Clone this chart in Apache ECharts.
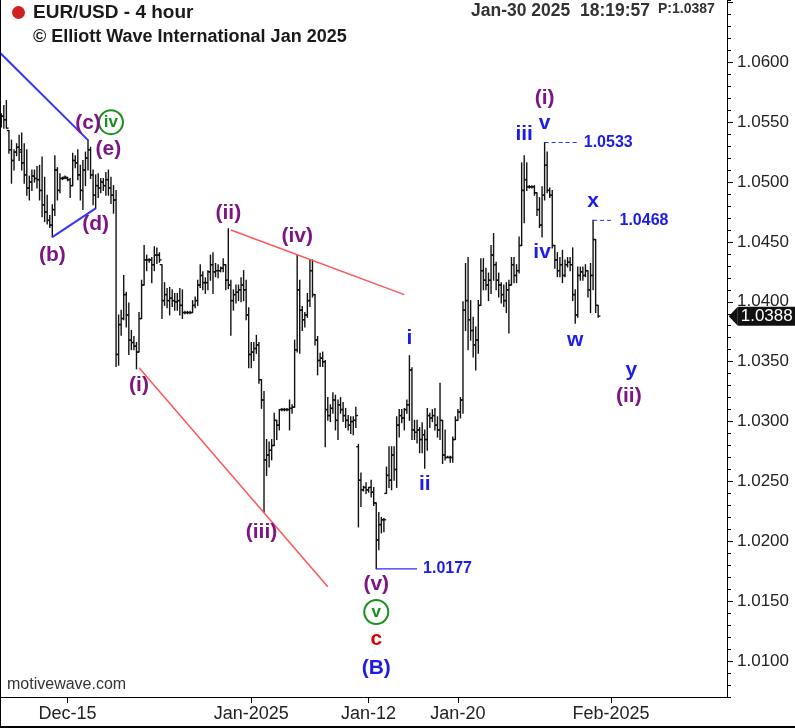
<!DOCTYPE html>
<html><head><meta charset="utf-8">
<script src="https://cdn.jsdelivr.net/npm/echarts@6/dist/echarts.min.js"></script>
<style>
html,body{margin:0;padding:0;background:#fff;}
#c{width:795px;height:728px;position:absolute;left:0;top:0;}
#frame{position:absolute;left:0;top:0;width:795px;height:728px;box-sizing:border-box;border-left:1px solid #000;border-bottom:2px solid #000;pointer-events:none;}
</style>
</head><body><div id="c"></div><div id="frame"></div>
<script>
const opens = [
1.0547,1.0555,1.0552,1.0543,1.0527,1.0518,1.0525,1.0529,1.0527,1.0516,
1.0506,1.0495,1.0500,1.0505,1.0503,1.0502,1.0493,1.0481,1.0475,1.0468,
1.0464,1.0477,1.0510,1.0493,1.0503,1.0504,1.0503,1.0502,1.0497,1.0518,
1.0516,1.0506,1.0493,1.0510,1.0520,1.0527,1.0506,1.0489,1.0497,1.0495,
1.0500,1.0497,1.0502,1.0495,1.0489,1.0485,1.0356,1.0381,1.0386,1.0406,
1.0389,1.0368,1.0366,1.0363,1.0358,1.0386,1.0414,1.0435,1.0435,1.0435,
1.0431,1.0439,1.0439,1.0431,1.0401,1.0406,1.0401,1.0403,1.0401,1.0400,
1.0401,1.0397,1.0391,1.0391,1.0391,1.0391,1.0397,1.0401,1.0414,1.0422,
1.0416,1.0416,1.0425,1.0431,1.0425,1.0426,1.0426,1.0428,1.0431,1.0418,
1.0414,1.0401,1.0406,1.0408,1.0410,1.0414,1.0410,1.0389,1.0356,1.0358,
1.0361,1.0364,1.0335,1.0318,1.0268,1.0272,1.0276,1.0280,1.0301,1.0297,
1.0310,1.0310,1.0310,1.0310,1.0311,1.0312,1.0360,1.0410,1.0393,1.0385,
1.0389,1.0401,1.0426,1.0406,1.0368,1.0351,1.0353,1.0350,1.0310,1.0305,
1.0311,1.0318,1.0301,1.0314,1.0310,1.0305,1.0301,1.0297,1.0300,1.0301,
1.0279,1.0251,1.0243,1.0245,1.0243,1.0245,1.0241,1.0232,1.0201,1.0214,
1.0218,1.0240,1.0255,1.0251,1.0272,1.0260,1.0297,1.0305,1.0303,1.0310,
1.0314,1.0343,1.0293,1.0291,1.0293,1.0285,1.0289,1.0285,1.0305,1.0303,
1.0305,1.0297,1.0293,1.0301,1.0272,1.0270,1.0270,1.0270,1.0285,1.0301,
1.0308,1.0318,1.0393,1.0401,1.0385,1.0376,1.0364,1.0368,1.0397,1.0426,
1.0418,1.0414,1.0418,1.0439,1.0431,1.0418,1.0414,1.0406,1.0401,1.0410,
1.0414,1.0431,1.0422,1.0426,1.0447,1.0493,1.0502,1.0496,1.0496,1.0496,
1.0491,1.0477,1.0464,1.0489,1.0514,1.0493,1.0489,1.0447,1.0435,1.0426,
1.0431,1.0422,1.0431,1.0433,1.0431,1.0406,1.0389,1.0422,1.0425,1.0422,
1.0426,1.0410,1.0422,1.0452,1.0397];
const highs = [
1.0557,1.0564,1.0568,1.0543,1.0535,1.0527,1.0532,1.0539,1.0541,1.0532,
1.0527,1.0505,1.0510,1.0510,1.0513,1.0514,1.0521,1.0504,1.0489,1.0472,
1.0481,1.0522,1.0512,1.0507,1.0504,1.0505,1.0504,1.0503,1.0524,1.0522,
1.0527,1.0514,1.0518,1.0525,1.0535,1.0529,1.0510,1.0506,1.0507,1.0503,
1.0503,1.0508,1.0510,1.0504,1.0497,1.0493,1.0389,1.0393,1.0422,1.0408,
1.0399,1.0376,1.0371,1.0366,1.0391,1.0418,1.0447,1.0439,1.0436,1.0437,
1.0446,1.0445,1.0441,1.0431,1.0416,1.0411,1.0412,1.0410,1.0407,1.0407,
1.0411,1.0410,1.0392,1.0392,1.0392,1.0401,1.0404,1.0418,1.0431,1.0425,
1.0420,1.0426,1.0439,1.0441,1.0432,1.0431,1.0429,1.0436,1.0431,1.0461,
1.0418,1.0410,1.0414,1.0414,1.0420,1.0426,1.0418,1.0395,1.0366,1.0366,
1.0372,1.0366,1.0335,1.0325,1.0285,1.0283,1.0285,1.0307,1.0301,1.0310,
1.0311,1.0311,1.0311,1.0318,1.0314,1.0368,1.0439,1.0418,1.0396,1.0391,
1.0407,1.0435,1.0435,1.0406,1.0371,1.0357,1.0358,1.0351,1.0320,1.0314,
1.0324,1.0322,1.0318,1.0320,1.0316,1.0311,1.0305,1.0304,1.0304,1.0312,
1.0281,1.0257,1.0246,1.0249,1.0245,1.0251,1.0245,1.0232,1.0224,1.0220,
1.0219,1.0262,1.0279,1.0279,1.0279,1.0304,1.0310,1.0310,1.0311,1.0318,
1.0355,1.0345,1.0301,1.0301,1.0295,1.0299,1.0293,1.0311,1.0307,1.0310,
1.0311,1.0304,1.0332,1.0301,1.0293,1.0271,1.0271,1.0287,1.0304,1.0310,
1.0320,1.0400,1.0432,1.0437,1.0401,1.0387,1.0379,1.0401,1.0436,1.0436,
1.0428,1.0424,1.0447,1.0457,1.0433,1.0424,1.0416,1.0414,1.0416,1.0418,
1.0437,1.0437,1.0431,1.0454,1.0516,1.0522,1.0516,1.0497,1.0497,1.0497,
1.0491,1.0487,1.0496,1.0533,1.0525,1.0495,1.0493,1.0447,1.0441,1.0437,
1.0443,1.0435,1.0437,1.0437,1.0445,1.0410,1.0429,1.0429,1.0429,1.0431,
1.0426,1.0432,1.0468,1.0452,1.0397];
const lows = [
1.0546,1.0545,1.0545,1.0524,1.0499,1.0510,1.0522,1.0518,1.0510,1.0499,
1.0489,1.0485,1.0493,1.0500,1.0495,1.0485,1.0471,1.0467,1.0465,1.0462,
1.0454,1.0472,1.0485,1.0491,1.0502,1.0503,1.0501,1.0487,1.0497,1.0512,
1.0502,1.0485,1.0477,1.0497,1.0510,1.0503,1.0481,1.0478,1.0487,1.0491,
1.0493,1.0489,1.0489,1.0482,1.0474,1.0346,1.0347,1.0372,1.0385,1.0379,
1.0356,1.0360,1.0360,1.0344,1.0358,1.0386,1.0414,1.0426,1.0433,1.0416,
1.0426,1.0432,1.0433,1.0386,1.0397,1.0395,1.0389,1.0396,1.0393,1.0393,
1.0389,1.0386,1.0390,1.0390,1.0390,1.0391,1.0395,1.0397,1.0412,1.0410,
1.0407,1.0410,1.0418,1.0407,1.0421,1.0420,1.0425,1.0425,1.0410,1.0411,
1.0372,1.0393,1.0399,1.0401,1.0400,1.0401,1.0385,1.0345,1.0345,1.0351,
1.0357,1.0332,1.0311,1.0224,1.0255,1.0262,1.0268,1.0280,1.0285,1.0293,
1.0309,1.0309,1.0309,1.0293,1.0307,1.0312,1.0358,1.0357,1.0376,1.0379,
1.0387,1.0396,1.0404,1.0364,1.0339,1.0346,1.0346,1.0279,1.0301,1.0300,
1.0307,1.0293,1.0285,1.0307,1.0300,1.0295,1.0293,1.0290,1.0289,1.0295,
1.0212,1.0229,1.0242,1.0240,1.0241,1.0237,1.0230,1.0177,1.0193,1.0207,
1.0208,1.0240,1.0245,1.0243,1.0251,1.0245,1.0287,1.0299,1.0293,1.0307,
1.0301,1.0285,1.0285,1.0282,1.0274,1.0274,1.0261,1.0276,1.0295,1.0300,
1.0293,1.0287,1.0285,1.0265,1.0268,1.0270,1.0266,1.0266,1.0285,1.0301,
1.0303,1.0307,1.0376,1.0360,1.0368,1.0354,1.0343,1.0357,1.0397,1.0410,
1.0410,1.0401,1.0407,1.0418,1.0410,1.0404,1.0399,1.0396,1.0391,1.0374,
1.0414,1.0416,1.0416,1.0424,1.0447,1.0466,1.0493,1.0495,1.0495,1.0489,
1.0472,1.0462,1.0454,1.0485,1.0491,1.0487,1.0445,1.0428,1.0421,1.0421,
1.0416,1.0421,1.0429,1.0426,1.0401,1.0382,1.0387,1.0418,1.0418,1.0421,
1.0404,1.0391,1.0410,1.0391,1.0387];
const closes = [
1.0555,1.0552,1.0545,1.0527,1.0518,1.0525,1.0529,1.0525,1.0516,1.0506,
1.0495,1.0500,1.0505,1.0503,1.0502,1.0493,1.0481,1.0475,1.0468,1.0464,
1.0477,1.0510,1.0493,1.0503,1.0503,1.0504,1.0502,1.0497,1.0518,1.0516,
1.0506,1.0493,1.0510,1.0520,1.0527,1.0506,1.0489,1.0497,1.0495,1.0500,
1.0497,1.0502,1.0495,1.0489,1.0485,1.0356,1.0381,1.0386,1.0406,1.0389,
1.0368,1.0366,1.0363,1.0358,1.0386,1.0414,1.0435,1.0435,1.0435,1.0431,
1.0439,1.0439,1.0435,1.0401,1.0406,1.0401,1.0403,1.0401,1.0400,1.0401,
1.0397,1.0391,1.0391,1.0391,1.0391,1.0397,1.0401,1.0414,1.0422,1.0416,
1.0416,1.0425,1.0431,1.0425,1.0426,1.0426,1.0428,1.0431,1.0418,1.0414,
1.0401,1.0406,1.0408,1.0410,1.0414,1.0410,1.0389,1.0356,1.0358,1.0361,
1.0364,1.0335,1.0318,1.0268,1.0272,1.0276,1.0280,1.0301,1.0297,1.0310,
1.0310,1.0310,1.0310,1.0311,1.0312,1.0360,1.0410,1.0393,1.0385,1.0389,
1.0401,1.0426,1.0406,1.0368,1.0351,1.0353,1.0350,1.0310,1.0305,1.0311,
1.0318,1.0301,1.0314,1.0310,1.0305,1.0301,1.0297,1.0300,1.0301,1.0305,
1.0251,1.0243,1.0245,1.0243,1.0245,1.0241,1.0232,1.0201,1.0214,1.0218,
1.0218,1.0255,1.0251,1.0272,1.0260,1.0297,1.0305,1.0303,1.0310,1.0314,
1.0343,1.0293,1.0291,1.0293,1.0285,1.0289,1.0285,1.0305,1.0303,1.0305,
1.0297,1.0293,1.0301,1.0272,1.0270,1.0270,1.0270,1.0285,1.0301,1.0308,
1.0318,1.0393,1.0401,1.0385,1.0376,1.0364,1.0368,1.0397,1.0426,1.0418,
1.0414,1.0418,1.0439,1.0431,1.0418,1.0414,1.0406,1.0401,1.0410,1.0414,
1.0431,1.0422,1.0426,1.0447,1.0493,1.0502,1.0496,1.0496,1.0496,1.0491,
1.0477,1.0464,1.0489,1.0514,1.0493,1.0489,1.0447,1.0435,1.0426,1.0431,
1.0422,1.0431,1.0433,1.0431,1.0406,1.0389,1.0422,1.0425,1.0422,1.0426,
1.0410,1.0422,1.0452,1.0397,1.0388];

const slotCount = 285;
const tickBars = [26, 98, 144, 179, 239];
const tickLabels = ['Dec-15', 'Jan-2025', 'Jan-12', 'Jan-20', 'Feb-2025'];
const yMin = 1.0070, yMax = 1.0652;
const lastPrice = 1.0388;

const purpleLabels = [[34,1.0549,'(c)'],[42,1.0527,'(e)'],[37,1.0465,'(d)'],[20,1.0439,'(b)'],
  [54,1.0330,'(i)'],[89,1.0474,'(ii)'],[116,1.0455,'(iv)'],[102,1.0208,'(iii)'],[147,1.0164,'(v)'],
  [213,1.0570,'(i)'],[246,1.0321,'(ii)']];
const blueLabels = [[147,1.0094,'(B)'],[160,1.0370,'i'],[166,1.0248,'ii'],[205,1.0540,'iii'],
  [213,1.0549,'v'],[212,1.0441,'iv'],[225,1.0368,'w'],[232,1.0484,'x'],[247,1.0343,'y']];
const redLabels = [[147,1.0118,'c']];
const circledLabels = [[43,1.0550,'iv'],[147,1.0141,'v']];

const blueTrends = [[[-1,1.0609],[34,1.0535]], [[20,1.0454],[37,1.0478]]];
const redTrends = [[[54,1.0345],[128,1.0162]], [[90,1.0460],[158,1.0406]]];
// price levels: [fromBar, toBar, price]
const dashedLevels = [[213,226,1.0533],[232,240,1.0468]];
const solidLevels = [[147,163,1.0177]];

const titleText = 'EUR/USD - 4 hour';
const copyrightText = '\u00A9 Elliott Wave International Jan 2025';
const stampText = 'Jan-30 2025  18:19:57';
const priceStamp = 'P:1.0387';
const sourceText = 'motivewave.com';

const FONT = '"Liberation Sans", Arial, sans-serif';
const PURPLE = '#7e1585', BLUE = '#1c1ce6', RED = '#e00000', GREEN = '#1b8f1b';
const LEVEL_BLUE = '#2b2bff';

const categories = Array.from({length: slotCount}, (_, i) => String(i));
const ohlc = opens.map((o, i) => [i, o, closes[i], lows[i], highs[i]]);

function ohlcItem(params, api) {
  const x = api.value(0);
  const pO = api.coord([x, api.value(1)]);
  const pC = api.coord([x, api.value(2)]);
  const pL = api.coord([x, api.value(3)]);
  const pH = api.coord([x, api.value(4)]);
  const cx = pH[0];
  const w = 2.2;
  const st = {stroke: '#111', lineWidth: 1.4};
  return {type: 'group', children: [
    {type: 'line', shape: {x1: cx, y1: pH[1] - 0.5, x2: cx, y2: pL[1] + 0.5}, style: st},
    {type: 'line', shape: {x1: cx - w, y1: pO[1], x2: cx, y2: pO[1]}, style: st},
    {type: 'line', shape: {x1: cx, y1: pC[1], x2: cx + w, y2: pC[1]}, style: st}
  ]};
}

function labelSeries(list, color) {
  return {
    type: 'scatter', data: list, symbolSize: 2, itemStyle: {color: 'rgba(0,0,0,0)', opacity: 1}, silent: true, z: 5,
    label: {show: true, position: 'inside', formatter: p => p.value[2], color: color, opacity: 1,
      fontFamily: FONT, fontWeight: 'bold', fontSize: 21}
  };
}

function trendSeries(pts, color, width) {
  return {type: 'line', data: pts, symbol: 'none', silent: true, clip: true, z: 3,
    lineStyle: {color: color, width: width}};
}

function levelSeries(l, dashType, width) {
  return {type: 'line', data: [[l[0], l[2]], [l[1], l[2]]], symbol: 'none', silent: true, z: 4,
    lineStyle: {color: LEVEL_BLUE, width: width, type: dashType},
    endLabel: {show: true, formatter: () => l[2].toFixed(4), color: BLUE, fontFamily: FONT, fontWeight: 'bold', fontSize: 16, distance: 6}};
}

const series = [
  {type: 'custom', name: 'EUR/USD', data: ohlc, renderItem: ohlcItem, encode: {x: 0, y: [1, 2, 3, 4]}, z: 2, silent: true,
   markPoint: {silent: true, animation: false, z: 10, data: [{coord: [slotCount - 1, lastPrice], symbol: 'path://M0,5 L8,0 L8,10 Z',
     symbolSize: [9, 19], symbolOffset: [7.5, 0], itemStyle: {color: '#111'},
     label: {show: true, position: 'right', distance: 0, formatter: lastPrice.toFixed(4), color: '#fff', backgroundColor: '#111',
       padding: [1, 3, 1, 3], borderRadius: 1, fontFamily: FONT, fontSize: 17, lineHeight: 17}}]}},
  ...blueTrends.map(t => trendSeries(t, '#3535ff', 2)),
  ...redTrends.map(t => trendSeries(t, '#ff5555', 1.5)),
  ...dashedLevels.map(l => levelSeries(l, [4, 3], 1)),
  ...solidLevels.map(l => levelSeries(l, 'solid', 1.2)),
  labelSeries(purpleLabels, PURPLE),
  labelSeries(blueLabels, BLUE),
  labelSeries(redLabels, RED),
  {type: 'scatter', data: circledLabels, symbol: 'circle', symbolSize: 24, silent: true, z: 5,
   itemStyle: {color: 'rgba(255,255,255,0)', borderColor: GREEN, borderWidth: 2, opacity: 1},
   label: {show: true, position: 'inside', formatter: p => p.value[2], color: GREEN, fontFamily: FONT, fontWeight: 'bold', fontSize: 17}}
];

const chart = echarts.init(document.getElementById('c'), null, {renderer: 'canvas'});
chart.setOption({
  animation: false,
  backgroundColor: '#fff',
  grid: {left: 0, top: 0, right: 68, bottom: 31, containLabel: false, outerBoundsMode: 'none'},
  xAxis: {
    type: 'category', data: categories, boundaryGap: true,
    axisLine: {show: true, lineStyle: {color: '#000', width: 1}},
    axisTick: {show: true, alignWithLabel: true, interval: (i) => tickBars.includes(i), length: 6, lineStyle: {color: '#000'}},
    axisLabel: {show: true, interval: (i) => tickBars.includes(i), formatter: (v) => {
        const k = tickBars.indexOf(Number(v)); return k >= 0 ? tickLabels[k] : ''; },
      fontSize: 18, color: '#222', fontFamily: FONT, margin: 8},
    splitLine: {show: false}
  },
  yAxis: [
    {type: 'value', position: 'right', min: yMin, max: yMax, splitNumber: 12,
     axisLine: {show: true, lineStyle: {color: '#000'}},
     axisTick: {show: true, length: 6, lineStyle: {color: '#000'}},
     axisLabel: {showMinLabel: false, showMaxLabel: false, formatter: v => (v > 1.0625 ? '' : v.toFixed(4)), fontSize: 17, color: '#222', fontFamily: FONT, margin: 10},
     splitLine: {show: false}},
    {type: 'value', position: 'right', min: yMin, max: yMax, interval: 0.001,
     axisLine: {show: false}, axisTick: {show: true, length: 4, lineStyle: {color: '#000'}},
     axisLabel: {show: false}, splitLine: {show: false}}
  ],
  graphic: [
    {type: 'circle', shape: {cx: 18.5, cy: 12.5, r: 6.5}, style: {fill: '#d21f1f'}},
    {type: 'text', x: 33, y: 13, style: {text: titleText, fill: '#1a1a1a', font: 'bold 19px ' + FONT, align: 'left', verticalAlign: 'middle'}},
    {type: 'text', x: 33, y: 37, style: {text: copyrightText, fill: '#1a1a1a', font: 'bold 18px ' + FONT, align: 'left', verticalAlign: 'middle'}},
    {type: 'text', x: 471, y: 11, style: {text: stampText, fill: '#333', font: 'bold 17.5px ' + FONT, align: 'left', verticalAlign: 'middle'}},
    {type: 'text', x: 658, y: 9, style: {text: priceStamp, fill: '#333', font: 'bold 14px ' + FONT, align: 'left', verticalAlign: 'middle'}},
    {type: 'text', x: 7, y: 685, style: {text: sourceText, fill: '#333', font: '16px ' + FONT, align: 'left', verticalAlign: 'middle'}}
  ],
  series: series
});
</script></body></html>
